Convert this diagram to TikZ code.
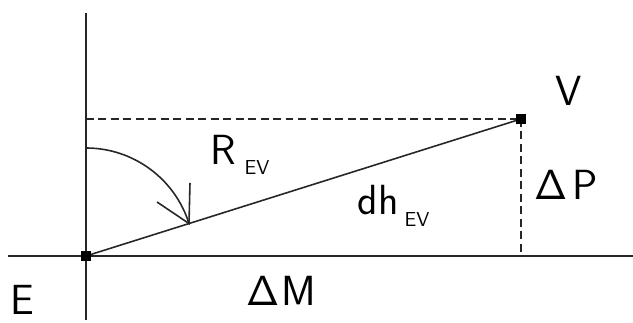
\documentclass[tikz,border=0pt]{standalone}
\usepackage{fontspec}
\usetikzlibrary{calc}
\begin{document}
\begin{tikzpicture}[x=0.02cm,y=0.02cm,
  axis/.style={line width=1pt,black!85},
  guide/.style={line width=1pt,black!85,dash pattern=on 4.5pt off 2.6pt},
  ray/.style={line width=0.9pt,black!85},
  marker/.style={fill=black,draw=none,minimum size=0.2cm,inner sep=0pt},
  big/.style={inner sep=0pt,anchor=base,font=\sffamily\fontsize{24}{28}\selectfont},
  small/.style={inner sep=0pt,anchor=base,font=\sffamily\fontsize{11.5}{13}\selectfont}]
\useasboundingbox (0,0) rectangle (633,323);
% points
\coordinate (E) at (86,67);
\coordinate (V) at (521,204);
\coordinate (vtop) at (86,310);
\coordinate (vbot) at (86,3);
\coordinate (hl) at (8,67);
\coordinate (hr) at (633,67);
\coordinate (Vtop) at (86,204);
\coordinate (Vfoot) at (521,67);
\coordinate (arcstart) at (86,175);
\coordinate (tip) at ($(E)+(17.5:108)$);
% axes
\draw[axis] (vbot) -- (vtop);
\draw[axis] (hl) -- (hr);
% dashed guides
\draw[guide] (Vtop) -- (V);
\draw[guide] (V) -- (Vfoot);
% ray
\draw[ray] (E) -- (V);
% arc with arrow
\draw[ray] (arcstart) arc[start angle=90,end angle=17.5,radius=108];
\coordinate (w1) at (190,140);
\coordinate (w2) at (157,121);
\draw[ray] (w1) -- (tip) -- (w2);
% markers
\node[marker] (Em) at (E) {};
\node[marker] (Vm) at (V) {};
% labels
\node[big] (lE) at (22,8) {E};
\node[big] (lV) at (569,217) {V};
\node[big] (lR) at (223,158) {R};
\node[small] (lRs) at (257,148) {EV};
\node[big] (ldh) at (378,108) {dh};
\node[small] (ldhs) at (417,96) {EV};
\node[big] (lPd) at (551,123) {Δ};
\node[big] (lP) at (585,123) {P};
\node[big] (lMd) at (263,17) {Δ};
\node[big] (lM) at (299,17) {M};
\end{tikzpicture}
\end{document}
